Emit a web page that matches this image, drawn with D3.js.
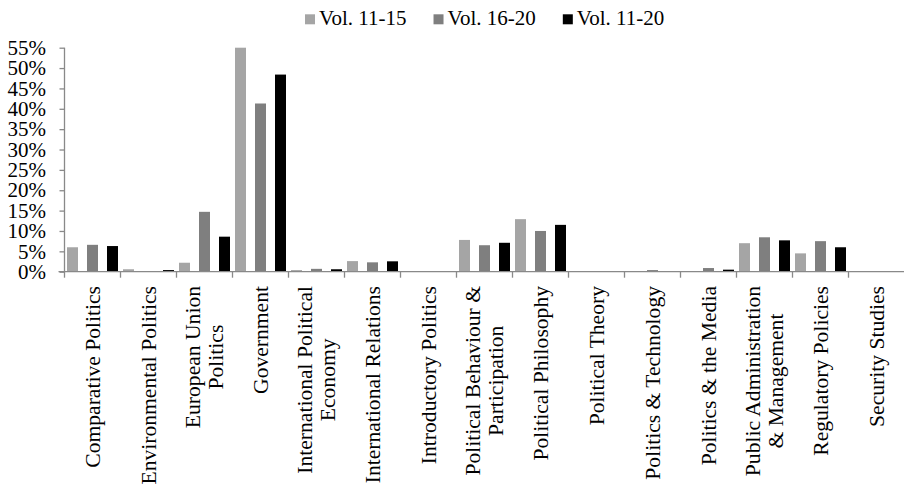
<!DOCTYPE html>
<html><head><meta charset="utf-8">
<script src="https://cdn.jsdelivr.net/npm/d3@7/dist/d3.min.js"></script>
<style>body{margin:0;background:#fff}svg{display:block}text{font-family:'Liberation Serif',Tinos,'Times New Roman',Times,'DejaVu Serif',serif;fill:#000}</style>
</head><body><svg id="c" width="904" height="484"></svg>
<script>
const categories = [
  ["Comparative Politics"],
  ["Environmental Politics"],
  ["European Union", "Politics"],
  ["Government"],
  ["International Political", "Economy"],
  ["International Relations"],
  ["Introductory Politics"],
  ["Political Behaviour &", "Participation"],
  ["Political Philosophy"],
  ["Political Theory"],
  ["Politics & Technology"],
  ["Politics & the Media"],
  ["Public Administration", "& Management"],
  ["Regulatory Policies"],
  ["Security Studies"]
];
const seriesNames = ["Vol. 11-15", "Vol. 16-20", "Vol. 11-20"];
const vol11_15 = [6.0, 0.6, 2.2, 55.0, 0.4, 2.6, 0, 7.8, 12.9, 0, 0, 0, 7.0, 4.5, 0];
const vol16_20 = [6.6, 0, 14.7, 41.3, 0.7, 2.3, 0, 6.5, 10.0, 0, 0.4, 0.9, 8.45, 7.5, 0];
const vol11_20 = [6.3, 0.4, 8.6, 48.4, 0.6, 2.55, 0, 7.1, 11.5, 0, 0, 0.5, 7.7, 6.0, 0];
const yTicks = [0, 5, 10, 15, 20, 25, 30, 35, 40, 45, 50, 55];

const colors = ["#a5a5a5", "#7f7f7f", "#000000"];
const series = [vol11_15, vol16_20, vol11_20];
const svg = d3.select("#c");
const fs = 21;
const fsX = 21.6;
const axisColor = "#898989";

const keys = categories.map((c, i) => i);
const x0 = d3.scaleBand().domain(keys).range([64.5, 904.5]).paddingInner(0).paddingOuter(0);
const x1 = d3.scaleBand().domain([0, 1, 2]).range([2.5, x0.bandwidth() - 2.5]).paddingInner(0.45).paddingOuter(0);
const y = d3.scaleLinear().domain([0, 55]).range([271.7, 47.7]);

// bars
const g = svg.append("g");
keys.forEach(i => {
  series.forEach((s, j) => {
    if (s[i] <= 0) return;
    g.append("rect")
      .attr("x", x0(i) + x1(j))
      .attr("width", x1.bandwidth())
      .attr("y", y(s[i]))
      .attr("height", y(0) - y(s[i]))
      .attr("fill", colors[j]);
  });
});

// y axis
const yAxis = d3.axisLeft(y).tickValues(yTicks).tickSize(5).tickPadding(13).tickFormat(d => d + "%");
const ya = svg.append("g").attr("transform", "translate(64.5,0)").call(yAxis);
ya.attr("font-family", null);
ya.select(".domain").attr("stroke", axisColor).attr("stroke-width", 1.3).attr("d", `M0,${y(55)}V${y(0)}`);
ya.selectAll(".tick line").attr("stroke", axisColor).attr("stroke-width", 1.3);
ya.selectAll(".tick text").attr("font-size", fs).attr("fill", "#000").attr("x", -18.5);

// x axis
const xa = svg.append("g");
xa.append("line").attr("x1", 58.5).attr("x2", 904).attr("y1", y(0)).attr("y2", y(0)).attr("stroke", axisColor).attr("stroke-width", 1.3);
keys.forEach(i => {
  const xt = x0(i);
  xa.append("line").attr("x1", xt).attr("x2", xt).attr("y1", y(0)).attr("y2", y(0) + 6).attr("stroke", axisColor).attr("stroke-width", 1.3);
});

// x labels
const topY = 286;
const lineGap = 22.5;
keys.forEach(i => {
  const lines = categories[i];
  const c = x0(i) + x0.bandwidth() / 2;
  const lg = svg.append("g").attr("transform", `translate(${c},${topY}) rotate(-90)`);
  const texts = lines.map((t, k) => lg.append("text").attr("font-size", fsX).text(t));
  const L = d3.max(texts, t => t.node().getComputedTextLength());
  const n = lines.length;
  texts.forEach((t, k) => {
    const off = (k - (n - 1) / 2) * lineGap + 7;
    t.attr("text-anchor", "middle").attr("x", -L / 2).attr("y", off);
  });
});

// legend
let lx = 305;
seriesNames.forEach((nm, j) => {
  svg.append("rect").attr("x", lx).attr("y", 14.3).attr("width", 10).attr("height", 10).attr("fill", colors[j]);
  const t = svg.append("text").attr("x", lx + 14).attr("y", 25).attr("font-size", fs).text(nm);
  lx += 14 + t.node().getComputedTextLength() + 27;
});
</script></body></html>
